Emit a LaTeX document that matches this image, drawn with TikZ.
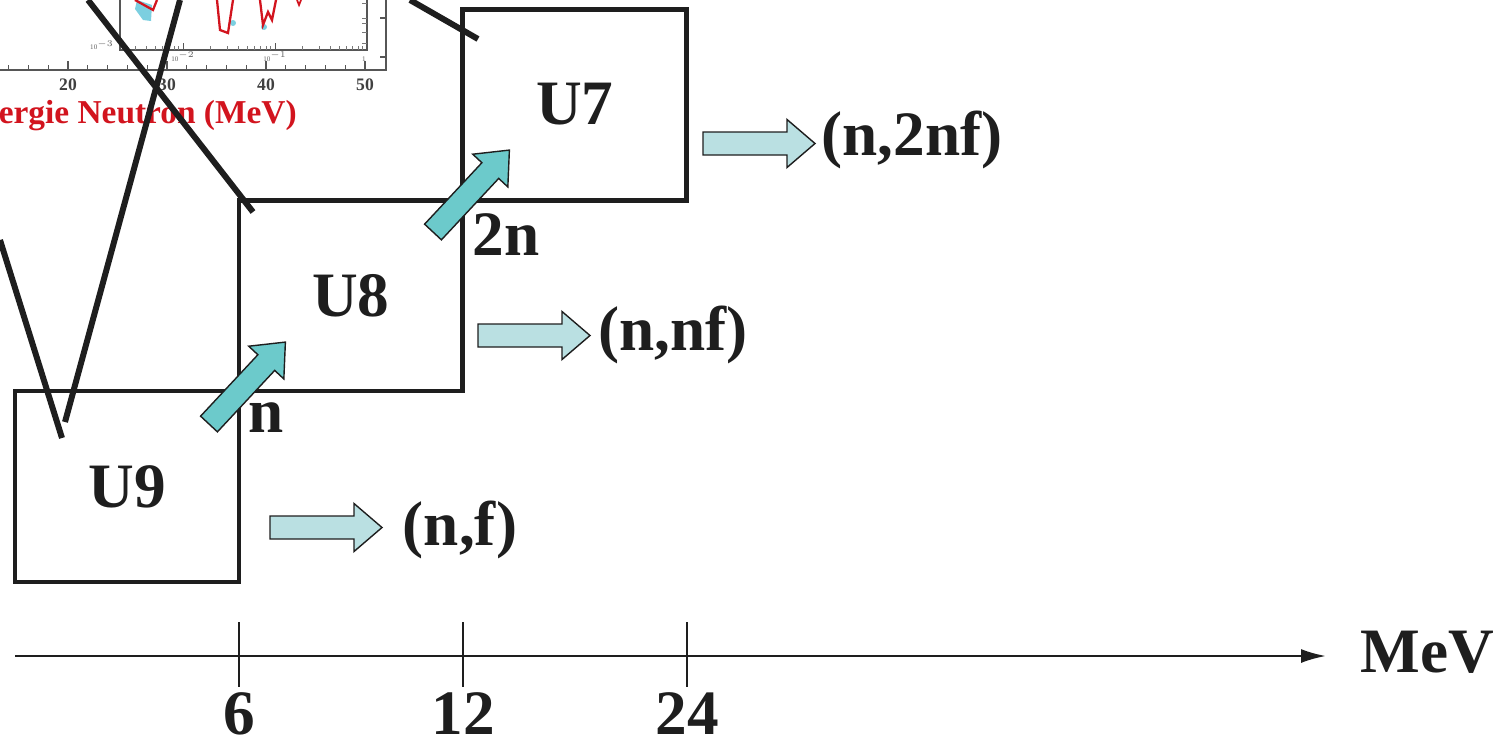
\documentclass[tikz,border=0pt]{standalone}
\usepackage{fontspec}
\setmainfont{Liberation Serif}
\usetikzlibrary{arrows.meta,positioning}

\definecolor{arrowlight}{HTML}{BAE0E2}
\definecolor{arrowteal}{HTML}{6CCACB}
\definecolor{plotred}{HTML}{D2141E}
\definecolor{plotcyan}{HTML}{7CCFE0}
\definecolor{ink}{HTML}{1E1E1E}

\tikzset{
  isobox/.style={draw=ink, text=ink, line width=2.8pt, minimum width=4.48cm, minimum height=3.82cm,
    inner sep=0pt, outer sep=0pt, font=\fontsize{36}{40}\selectfont\bfseries},
  lbl/.style={text=ink, inner sep=0pt, font=\fontsize{36}{40}\selectfont\bfseries},
  plotnum/.style={text=ink!85, inner sep=0pt, font=\fontsize{10}{12}\selectfont\bfseries},
  tinynum/.style={text=ink!70, inner sep=0pt, font=\fontsize{4}{5}\selectfont},
  pointer/.style={draw=ink, line width=3.4pt},
  fat arrow/.pic={\draw[draw=ink, line width=0.8pt, fill=#1] (0,-11.5) -- (84,-11.5) -- (84,-24) -- (112,0)
    -- (84,24) -- (84,11.5) -- (0,11.5) -- cycle;}
}

\begin{document}
\begin{tikzpicture}[x=0.02cm, y=-0.02cm]
    \useasboundingbox (0,0) rectangle (1504,747);

    % cut-out of the cross-section plot
    \draw[ink!75, line width=0.8pt] (0,70) -- (386,70) -- (386,0);
    \foreach \i in {0,...,18} {\draw[ink!75, line width=0.6pt] ({8.6+19.8*\i},70) -- ++(0,-5);}
    \foreach \x/\v in {68/20,167/30,266/40,365/50} {
        \draw[ink!75, line width=0.7pt] (\x,70) -- ++(0,-9);
        \node[plotnum, anchor=base] (num\v) at (\x,90) {\v};
    }
    \foreach \y in {18,57} {\draw[ink!75, line width=0.6pt] (386,\y) -- ++(-6,0);}
    \draw[ink!75, line width=0.7pt] (120,0) -- (120,50) -- (367,50) -- (367,0);
    \begin{scope}
        \clip (120,0) rectangle (367,50);
        \foreach \d in {91,183,275} {
            \foreach \k in {2,...,9} {\draw[ink!60, line width=0.4pt] ({\d+92*log10(\k)},50) -- ++(0,-4);}
        }
    \end{scope}
    \foreach \x in {183,275,367} {\draw[ink!75, line width=0.5pt] (\x,50) -- ++(0,-7);}
    \foreach \y in {3,18,23,32,43} {\draw[ink!60, line width=0.4pt] (367,\y) -- ++(-5,0);}
    \node[tinynum, anchor=base east] (lg3) at (114,50) {10$^{-3}$};
    \node[tinynum, anchor=base] (lg2) at (183,61) {10$^{-2}$};
    \node[tinynum, anchor=base] (lg1) at (275,61) {10$^{-1}$};
    \node[tinynum, anchor=base] (lg0) at (364,61) {1};
    \fill[plotcyan] (137,0) -- (152,5) -- (151,21) -- (143,20) -- (135,9) -- cycle;
    \fill[plotcyan] (233,23) circle (3);
    \fill[plotcyan] (264,27) circle (3);
    \draw[plotred, line width=1.3pt] (135,0) -- (153,10) -- (157,0);
    \draw[plotred, line width=1.3pt] (217,0) -- (220,30) -- (228,33) -- (233,0);
    \draw[plotred, line width=1.3pt] (260,0) -- (263,25) -- (268,12) -- (272,20) -- (276,0);
    \draw[plotred, line width=1.0pt] (297,0) -- (299,5) -- (301,0);
    \node[text=plotred, inner sep=0pt, font=\fontsize{19}{22}\selectfont\bfseries, anchor=base east]
        (xlabel) at (297,123) {ergie Neutron (MeV)};

    % isotopes
    \node[isobox] (u9) at (127,486.5) {U9};
    \node[isobox, anchor=south west] (u8) at (u9.north east) {U8};
    \node[isobox, anchor=south west] (u7) at (u8.north east) {U7};

    % reactions
    \pic at (270,527.5) {fat arrow=arrowlight};
    \pic at (478,335.5) {fat arrow=arrowlight};
    \pic at (703,143.5) {fat arrow=arrowlight};
    \node[lbl, anchor=base] (nf) at (460,545) {(n,f)};
    \node[lbl, anchor=base] (nnf) at (673,350) {(n,nf)};
    \node[lbl, anchor=base] (n2nf) at (912,155) {(n,2nf)};

    \pic[rotate=47] at (209,424) {fat arrow=arrowteal};
    \pic[rotate=47] at (433,232) {fat arrow=arrowteal};
    \node[lbl, anchor=base] (n1) at (266,432) {n};
    \node[lbl, anchor=base] (n2) at (506,255) {2n};

    % energy axis
    \coordinate (axstart) at (15,656);
    \coordinate (axend) at (1326,656);
    \draw[ink, line width=1.3pt, -{Latex[length=0.5cm, width=0.28cm]}] (axstart) -- (axend);
    \foreach \x/\v in {239/6,463/12,687/24} {
        \draw[ink, line width=0.9pt] (\x,622) -- (\x,687);
        \node[lbl, anchor=base] (tick\v) at (\x,734) {\v};
    }
    \node[lbl, anchor=base] (unit) at (1427,672) {MeV};

    % pointers from the plot
    \coordinate (pa1) at (0,240);   \coordinate (pa2) at (62,438);
    \coordinate (pb1) at (65,422);  \coordinate (pb2) at (180,0);
    \coordinate (pc1) at (88,0);    \coordinate (pc2) at (253,212);
    \coordinate (pd1) at (410,0);   \coordinate (pd2) at (478,39);
    \draw[pointer] (pa1) -- (pa2);
    \draw[pointer] (pb1) -- (pb2);
    \draw[pointer] (pc1) -- (pc2);
    \draw[pointer] (pd1) -- (pd2);
\end{tikzpicture}
\end{document}
